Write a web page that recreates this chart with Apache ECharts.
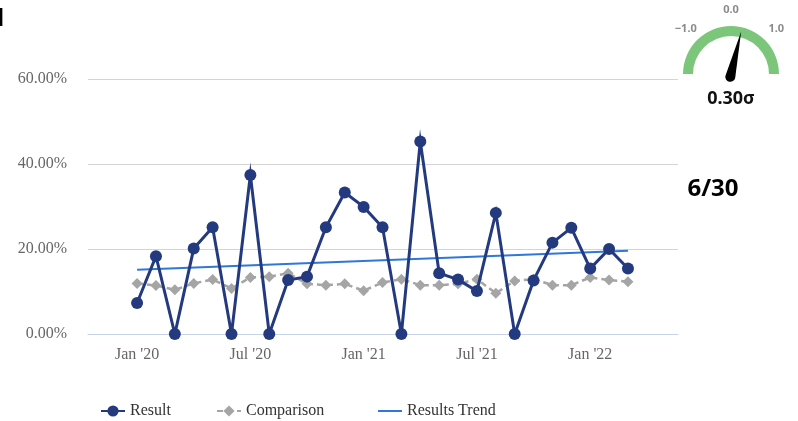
<!DOCTYPE html>
<html><head><meta charset="utf-8">
<script src="https://cdn.jsdelivr.net/npm/echarts@6/dist/echarts.min.js"></script>
<style>html,body{margin:0;padding:0;background:#fff}#c{width:798px;height:421px}</style>
</head><body><div id="c"></div>
<script>
const months = ["Jan '20","Feb '20","Mar '20","Apr '20","May '20","Jun '20","Jul '20","Aug '20","Sep '20","Oct '20","Nov '20","Dec '20",
  "Jan '21","Feb '21","Mar '21","Apr '21","May '21","Jun '21","Jul '21","Aug '21","Sep '21","Oct '21","Nov '21","Dec '21",
  "Jan '22","Feb '22","Mar '22"];
const tickLabels = ["Jan '20","Jul '20","Jan '21","Jul '21","Jan '22"];
const resultValues = [7.3,18.3,0,20.1,25.1,0,37.4,0,12.7,13.5,25.1,33.3,
  29.9,25.1,0,45.3,14.3,12.8,10.1,28.5,0,12.6,21.5,25.0,
  15.4,20.0,15.4];
const comparisonValues = [11.9,11.4,10.4,11.9,12.8,10.7,13.3,13.5,14.3,11.8,11.5,11.8,
  10.2,12.1,12.9,11.5,11.5,11.8,12.9,9.6,12.5,12.9,11.5,11.5,
  13.3,12.7,12.3];
const trendMonths = ["Jan '20","Mar '22"];
const trendValues = [15.1,19.6];
const seriesNames = ['Result','Comparison','Results Trend'];
const gaugeValue = 0.30;
const gaugeMin = -2, gaugeMax = 2;
const gaugeTickValues = [-1, 0, 1];
const scoreText = '6/30';
const cornerText = 'l';

const serif = 'Liberation Serif';
const gaugeCenter = [731, 74], gaugeRadius = 48, gaugeLabelRadius = 64;
function gaugePoint(v, R) {
  const a = Math.PI - (v - gaugeMin) / (gaugeMax - gaugeMin) * Math.PI;
  return [gaugeCenter[0] + R * Math.cos(a), gaugeCenter[1] - R * Math.sin(a)];
}
function fmtGauge(v) { return (v < 0 ? '\u2212' : '') + Math.abs(v).toFixed(1); }

const chart = echarts.init(document.getElementById('c'), null, {renderer:'canvas'});
const legendText = {fontFamily: serif, fontSize: 16, color: '#333'};
chart.setOption({
  animation: false,
  grid: {left: 88, right: 120, top: 79, bottom: 87},
  legend: [
    {data: [seriesNames[0]], left: 95, top: 398, itemWidth: 24, itemHeight: 14, textStyle: legendText},
    {data: [seriesNames[1]], left: 211, top: 398, itemWidth: 24, itemHeight: 14, textStyle: legendText},
    {data: [{name: seriesNames[2], icon: 'path://M0 0H24V2H0Z'}], left: 373, top: 398, itemWidth: 24, itemHeight: 2, textStyle: legendText}
  ],
  xAxis: {
    type: 'value', min: -2.6, max: 28.65,
    axisLine: {show: true, lineStyle: {color: '#c6d3e8', width: 1}},
    axisTick: {show: false},
    splitLine: {show: false},
    axisLabel: {
      customValues: tickLabels.map(t => months.indexOf(t)),
      formatter: v => months[Math.round(v)],
      color: '#666', fontFamily: serif, fontSize: 16, margin: 13
    }
  },
  yAxis: {
    type: 'value', min: 0, max: 60, interval: 20,
    axisLine: {show: false}, axisTick: {show: false},
    splitLine: {showMinLine: false, lineStyle: {color: '#d4d4d4', width: 1}},
    axisLabel: {formatter: v => v.toFixed(2) + '%', color: '#666', fontFamily: serif, fontSize: 16, margin: 21}
  },
  graphic: [
    {type: 'text', x: 713, y: 189, style: {text: scoreText, font: 'bold 24px "Noto Sans"', fill: '#000', align: 'center', verticalAlign: 'middle'}},
    {type: 'text', x: -3, y: 19, style: {text: cornerText, font: 'bold 24px "Noto Sans"', fill: '#000', align: 'left', verticalAlign: 'middle'}}
  ].concat(gaugeTickValues.map(v => {
    const p = gaugePoint(v, gaugeLabelRadius);
    return {type: 'text', x: p[0], y: p[1], style: {text: fmtGauge(v), font: 'bold 11px "Noto Sans"', fill: '#8a8a8a', align: 'center', verticalAlign: 'middle'}};
  })),
  series: [
    {
      name: seriesNames[2], type: 'line', z: 2,
      data: trendMonths.map((m, i) => [months.indexOf(m), trendValues[i]]),
      symbol: 'none', color: '#2f77d8',
      lineStyle: {width: 2, color: '#2f77d8'}
    },
    {
      name: seriesNames[1], type: 'line', z: 3,
      data: comparisonValues.map((v, i) => [i, v]),
      symbol: 'diamond', symbolSize: 11, color: '#a5a5a5',
      itemStyle: {color: '#a5a5a5'},
      lineStyle: {width: 2.5, type: [6, 4], color: '#a5a5a5'}
    },
    {
      name: seriesNames[0], type: 'line', z: 4,
      data: resultValues.map((v, i) => [i, v]),
      symbol: 'circle', symbolSize: 12, color: '#243a7e',
      itemStyle: {color: '#243a7e'},
      lineStyle: {width: 3, color: '#243a7e', join: 'miter', miterLimit: 10}
    },
    {
      type: 'gauge', center: gaugeCenter, radius: gaugeRadius,
      startAngle: 180, endAngle: 0, min: gaugeMin, max: gaugeMax, splitNumber: 4,
      axisLine: {lineStyle: {width: 10, color: [[1, '#7cc67c']]}},
      splitLine: {show: false},
      axisTick: {show: false},
      axisLabel: {show: false},
      pointer: {icon: 'path://M5 0 L10 46.5 A5 5 0 1 1 0 46.5 Z', length: 51.5, width: 10, offsetCenter: [0, 7.9], itemStyle: {color: '#000'}},
      anchor: {show: false},
      title: {show: false},
      detail: {
        offsetCenter: [0, 25], fontSize: 18, fontWeight: 'bold', fontFamily: 'Noto Sans', color: '#111',
        formatter: v => v.toFixed(2) + '\u03c3'
      },
      data: [{value: gaugeValue}]
    }
  ]
});
</script>
</body></html>
